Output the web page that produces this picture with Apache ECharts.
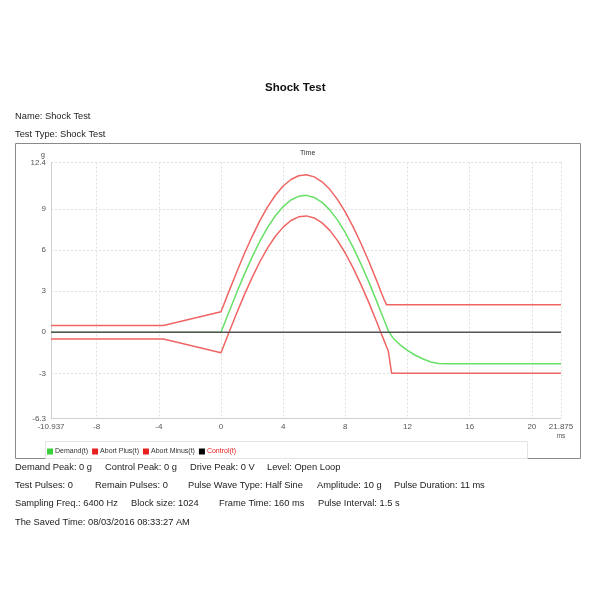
<!DOCTYPE html>
<html>
<head>
<meta charset="utf-8">
<script src="https://cdn.jsdelivr.net/npm/echarts@6/dist/echarts.min.js"></script>
<style>html,body{margin:0;padding:0;background:#fff;}#c{width:600px;height:600px;}</style>
</head>
<body>
<div id="c"></div>
<script>
// ---- data ----
const timeMs = [-10.937, -3.7, 0, 0.5, 1, 1.5, 2, 2.5, 3, 3.5, 4, 4.5, 5, 5.5, 6, 6.5, 7, 7.5, 8, 8.5, 9, 9.5, 10, 10.28, 10.5, 10.65, 10.76, 10.8, 10.98, 11.1, 11.5, 12, 12.5, 13, 13.5, 14, 14.5, 21.875];
const demand = [0, 0, 0, 1.45, 2.87, 4.23, 5.49, 6.65, 7.66, 8.51, 9.18, 9.66, 9.93, 10.0, 9.85, 9.49, 8.94, 8.19, 7.27, 6.2, 5.0, 3.7, 2.31, 1.5, 0.87, 0.44, 0.12, 0, -0.27, -0.45, -0.9, -1.32, -1.68, -1.95, -2.17, -2.28, -2.3, -2.3];
const abortPlus = [0.5, 0.5, 1.5, 2.95, 4.37, 5.73, 6.99, 8.15, 9.16, 10.01, 10.68, 11.16, 11.43, 11.5, 11.35, 10.99, 10.44, 9.69, 8.77, 7.7, 6.5, 5.2, 3.81, 3.0, 2.37, 2.0, 2.0, 2.0, 2.0, 2.0, 2.0, 2.0, 2.0, 2.0, 2.0, 2.0, 2.0, 2.0];
const abortMinus = [-0.5, -0.5, -1.5, -0.05, 1.37, 2.73, 3.99, 5.15, 6.16, 7.01, 7.68, 8.16, 8.43, 8.5, 8.35, 7.99, 7.44, 6.69, 5.77, 4.7, 3.5, 2.2, 0.81, 0, -0.63, -1.06, -1.35, -1.65, -3.0, -3.0, -3.0, -3.0, -3.0, -3.0, -3.0, -3.0, -3.0, -3.0];
const control = [0, 0, 0, 0, 0, 0, 0, 0, 0, 0, 0, 0, 0, 0, 0, 0, 0, 0, 0, 0, 0, 0, 0, 0, 0, 0, 0, 0, 0, 0, 0, 0, 0, 0, 0, 0, 0, 0];
const xTicks = [-10.937, -8, -4, 0, 4, 8, 12, 16, 20, 21.875];
const yTicks = [-6.3, -3, 0, 3, 6, 9, 12.4];
const seriesNames = ['Demand(t)', 'Abort Plus(t)', 'Abort Minus(t)', 'Control(t)'];
const infoRows = [
  ['Demand Peak: 0 g', 'Control Peak: 0 g', 'Drive Peak: 0 V', 'Level: Open Loop'],
  ['Test Pulses: 0', 'Remain Pulses: 0', 'Pulse Wave Type: Half Sine', 'Amplitude: 10 g', 'Pulse Duration: 11 ms'],
  ['Sampling Freq.: 6400 Hz', 'Block size: 1024', 'Frame Time: 160 ms', 'Pulse Interval: 1.5 s'],
  ['The Saved Time: 08/03/2016 08:33:27 AM']
];

// ---- layout ----
const FONT = '"Liberation Sans", Arial, sans-serif';
const infoX = [
  [15, 105, 190, 267],
  [15, 95, 188, 317, 394],
  [15, 131, 219, 318],
  [15]
];
const infoY = [467, 485, 503, 522];

const pair = (ys) => timeMs.map((t, i) => [t, ys[i]]);

const graphics = [
  { type: 'rect', shape: { x: 15.5, y: 143.5, width: 565, height: 315 }, style: { fill: 'none', stroke: '#8a8a8a', lineWidth: 1 }, z: -1 },
  { type: 'rect', shape: { x: 45.5, y: 441.5, width: 482, height: 17 }, style: { fill: 'none', stroke: '#e4e4e4', lineWidth: 1 }, z: -1 },
  { type: 'text', style: { x: 15, y: 116, text: 'Name: Shock Test', font: '9.3px ' + FONT, fill: '#222', verticalAlign: 'middle' } },
  { type: 'text', style: { x: 15, y: 134, text: 'Test Type: Shock Test', font: '9.3px ' + FONT, fill: '#222', verticalAlign: 'middle' } }
];
infoRows.forEach((row, r) => {
  row.forEach((txt, k) => {
    graphics.push({ type: 'text', style: { x: infoX[r][k], y: infoY[r], text: txt, font: '9.3px ' + FONT, fill: '#222', verticalAlign: 'middle' } });
  });
});

const chart = echarts.init(document.getElementById('c'), null, { renderer: 'canvas' });
chart.setOption({
  backgroundColor: '#fff',
  animation: false,
  title: [
    { text: 'Shock Test', left: 265, top: 82, padding: 0, textStyle: { fontFamily: FONT, fontSize: 11.5, fontWeight: 'bold', color: '#111' } },
    { text: 'Time', left: 300, top: 150, padding: 0, textStyle: { fontFamily: FONT, fontSize: 7, fontWeight: 'normal', color: '#333' } }
  ],
  grid: { left: 51, right: 39, top: 162.5, bottom: 181.5, containLabel: false },
  legend: {
    left: 47, top: 448, padding: 0, itemWidth: 6, itemHeight: 6, itemGap: 4, icon: 'rect',
    textStyle: { fontFamily: FONT, fontSize: 7, color: '#333', padding: [0, 0, 0, -3] },
    data: [
      { name: seriesNames[0], itemStyle: { color: '#3ccf3c' } },
      { name: seriesNames[1], itemStyle: { color: '#e82020' } },
      { name: seriesNames[2], itemStyle: { color: '#e82020' } },
      { name: seriesNames[3], itemStyle: { color: '#000' }, textStyle: { color: '#e82020' } }
    ]
  },
  xAxis: {
    type: 'value', min: -10.937, max: 21.875,
    name: 'ms', nameLocation: 'end', nameGap: 0,
    nameTextStyle: { fontFamily: FONT, fontSize: 6.5, color: '#555', align: 'center', verticalAlign: 'top', padding: [14, 0, 0, 0] },
    axisLine: { show: true, onZero: false, lineStyle: { color: '#d0d0d0', width: 1 } },
    axisTick: { show: false, customValues: xTicks },
    axisLabel: { customValues: xTicks, fontFamily: FONT, fontSize: 8, color: '#555', margin: 4, formatter: (v) => String(v) },
    splitLine: { show: true, lineStyle: { color: '#e0e0e0', type: [2, 2], width: 1 } }
  },
  yAxis: {
    type: 'value', min: -6.3, max: 12.4,
    name: 'g', nameLocation: 'end', nameGap: 2,
    nameTextStyle: { fontFamily: FONT, fontSize: 7, color: '#444', align: 'right', padding: [0, 6, 0, 0] },
    axisLine: { show: true, onZero: false, lineStyle: { color: '#d0d0d0', width: 1 } },
    axisTick: { show: false, customValues: yTicks },
    axisLabel: { customValues: yTicks, fontFamily: FONT, fontSize: 8, color: '#555', margin: 5, formatter: (v) => String(v) },
    splitLine: { show: true, lineStyle: { color: '#e0e0e0', type: [2, 2], width: 1 } }
  },
  series: [
    { name: seriesNames[0], type: 'line', data: pair(demand), showSymbol: false, symbol: 'none', lineStyle: { color: '#66e066', width: 1.5 }, itemStyle: { color: '#66e066' }, z: 2 },
    { name: seriesNames[1], type: 'line', data: pair(abortPlus), showSymbol: false, symbol: 'none', lineStyle: { color: '#f06464', width: 1.5 }, itemStyle: { color: '#f06464' }, z: 3 },
    { name: seriesNames[2], type: 'line', data: pair(abortMinus), showSymbol: false, symbol: 'none', lineStyle: { color: '#f06464', width: 1.5 }, itemStyle: { color: '#f06464' }, z: 3 },
    { name: seriesNames[3], type: 'line', data: pair(control), showSymbol: false, symbol: 'none', lineStyle: { color: '#555', width: 1.5 }, itemStyle: { color: '#555' }, z: 4 }
  ],
  graphic: graphics
});
</script>
</body>
</html>
